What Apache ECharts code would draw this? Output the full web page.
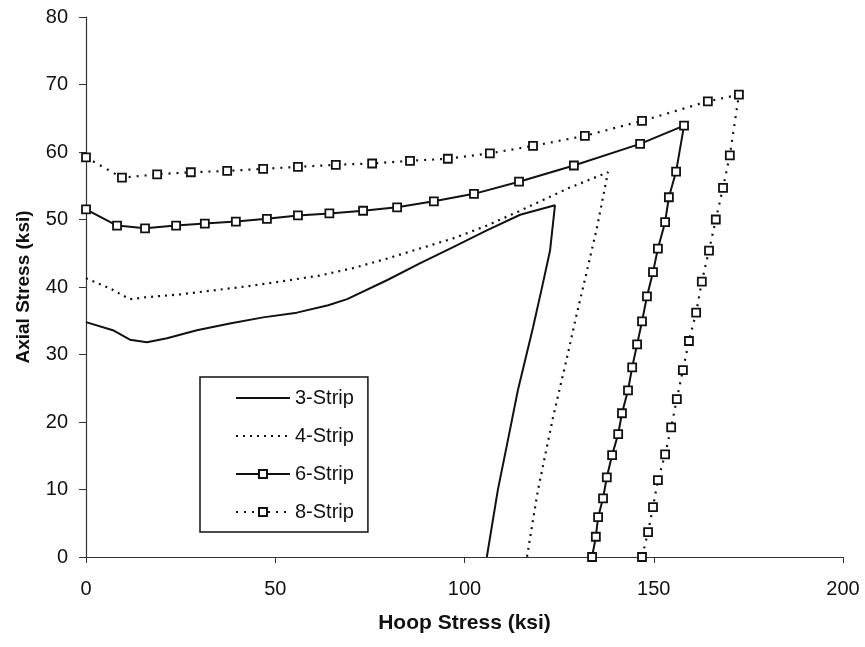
<!DOCTYPE html>
<html>
<head>
<meta charset="utf-8">
<script src="https://cdn.jsdelivr.net/npm/echarts@6/dist/echarts.min.js"></script>
<style>
  html, body { margin: 0; padding: 0; background: #fff; }
  #chart { width: 865px; height: 647px; }
</style>
</head>
<body>
<div id="chart"></div>
<script>
// Axis ranges and ticks
const hoopTicks = [0, 50, 100, 150, 200];
const axialTicks = [0, 10, 20, 30, 40, 50, 60, 70, 80];

// 3-Strip envelope (hoop, axial in ksi)
const strip3Hoop  = [0, 7.1, 11.6, 16.1, 21.4, 29.3, 38, 46.8, 55.7, 64, 69, 79.5, 88.2, 97, 105.9, 114.7, 123.9, 122.6, 120.7, 118.1, 116, 114.1, 112, 108.8, 105.9];
const strip3Axial = [34.8, 33.6, 32.2, 31.8, 32.4, 33.6, 34.6, 35.5, 36.2, 37.3, 38.2, 41, 43.5, 45.9, 48.4, 50.7, 52.1, 45.4, 40.5, 34.0, 29.1, 24.7, 18.8, 9.9, 0];

// 4-Strip envelope
const strip4Hoop  = [0, 6.3, 11.6, 16.1, 24.8, 33.6, 42.5, 51.3, 61.8, 70.5, 79.5, 88.2, 97, 105.9, 114.7, 127.3, 137.9, 135, 132.4, 129.7, 127.1, 123.4, 119.4, 116.5];
const strip4Axial = [41.3, 39.8, 38.2, 38.5, 38.9, 39.5, 40.1, 40.8, 41.7, 42.8, 44.2, 45.7, 47.2, 49.1, 51.3, 54.6, 57.0, 48.8, 42.5, 36.1, 29.6, 20.7, 9.9, 0];

// 6-Strip envelope
const strip6Hoop  = [0, 8.2, 15.6, 23.8, 31.4, 39.6, 47.8, 56, 64.3, 73.2, 82.2, 91.9, 102.5, 114.4, 128.9, 146.4, 158,
                     155.9, 154, 153, 151.1, 149.8, 148.2, 146.9, 145.6, 144.3, 143.2, 141.6, 140.6, 139, 137.6, 136.6, 135.3, 134.7, 133.7];
const strip6Axial = [51.5, 49.1, 48.7, 49.1, 49.4, 49.7, 50.1, 50.6, 50.9, 51.3, 51.8, 52.7, 53.8, 55.6, 58.0, 61.2, 63.9,
                     57.1, 53.3, 49.6, 45.7, 42.2, 38.6, 34.9, 31.5, 28.1, 24.7, 21.3, 18.2, 15.1, 11.8, 8.7, 5.9, 3.0, 0];

// 8-Strip envelope
const strip8Hoop  = [0, 9.5, 18.8, 27.7, 37.3, 46.8, 56, 66, 75.6, 85.6, 95.6, 106.7, 118.1, 131.8, 146.9, 164.3, 172.5,
                     170.1, 168.3, 166.4, 164.6, 162.7, 161.2, 159.3, 157.7, 156.1, 154.6, 153, 151.1, 149.8, 148.5, 146.9];
const strip8Axial = [59.2, 56.2, 56.7, 57.0, 57.2, 57.5, 57.8, 58.1, 58.3, 58.7, 59.0, 59.8, 60.9, 62.4, 64.6, 67.5, 68.5,
                     59.5, 54.7, 50.0, 45.4, 40.8, 36.2, 32.0, 27.7, 23.4, 19.2, 15.2, 11.4, 7.4, 3.7, 0];

const pairs = (xs, ys) => xs.map((x, i) => [x, ys[i]]);

const FONT = '"Liberation Sans", Arial, sans-serif';
const INK = '#111';

const squareMarker = {
  symbol: 'rect',
  symbolSize: 8,
  itemStyle: { color: '#fff', borderColor: INK, borderWidth: 1.8 }
};

const chart = echarts.init(document.getElementById('chart'), null, { renderer: 'canvas' });

chart.setOption({
  animation: false,
  backgroundColor: '#fff',
  grid: { left: 86, right: 22, top: 17, bottom: 90, containLabel: false },
  xAxis: {
    type: 'value',
    min: hoopTicks[0],
    max: hoopTicks[hoopTicks.length - 1],
    interval: hoopTicks[1] - hoopTicks[0],
    name: 'Hoop Stress (ksi)',
    nameLocation: 'middle',
    nameGap: 56,
    nameTextStyle: { fontFamily: FONT, fontSize: 21, fontWeight: 'bold', color: INK },
    axisLine: { show: true, onZero: false, lineStyle: { color: '#333', width: 1.2 } },
    axisTick: { show: true, inside: false, length: 6, lineStyle: { color: '#333' } },
    axisLabel: { fontFamily: FONT, fontSize: 20, color: INK, margin: 22 },
    splitLine: { show: false }
  },
  yAxis: {
    type: 'value',
    min: axialTicks[0],
    max: axialTicks[axialTicks.length - 1],
    interval: axialTicks[1] - axialTicks[0],
    name: 'Axial Stress (ksi)',
    nameLocation: 'middle',
    nameGap: 53,
    nameTextStyle: { fontFamily: FONT, fontSize: 19, fontWeight: 'bold', color: INK },
    axisLine: { show: true, onZero: false, lineStyle: { color: '#333', width: 1.2 } },
    axisTick: { show: true, inside: false, length: 7, lineStyle: { color: '#333' } },
    axisLabel: { fontFamily: FONT, fontSize: 20, color: INK, margin: 18 },
    splitLine: { show: false }
  },
  legend: {
    orient: 'vertical',
    left: 200,
    top: 377,
    padding: [11, 14, 10, 35],
    borderColor: INK,
    borderWidth: 1.5,
    itemWidth: 54,
    itemHeight: 10,
    itemGap: 18,
    textStyle: { fontFamily: FONT, fontSize: 20, color: INK, lineHeight: 20 },
    data: [
      // plain lines carry no marker in the key
      { name: '3-Strip', itemStyle: { opacity: 0 } },
      { name: '4-Strip', itemStyle: { opacity: 0 } },
      { name: '6-Strip' },
      { name: '8-Strip' }
    ]
  },
  series: [
    {
      name: '3-Strip',
      type: 'line',
      data: pairs(strip3Hoop, strip3Axial),
      symbol: 'none',
      lineStyle: { color: INK, width: 2, type: 'solid' },
      itemStyle: { color: INK }
    },
    {
      name: '4-Strip',
      type: 'line',
      data: pairs(strip4Hoop, strip4Axial),
      symbol: 'none',
      lineStyle: { color: INK, width: 2.2, type: [2, 5] },
      itemStyle: { color: INK }
    },
    Object.assign({
      name: '6-Strip',
      type: 'line',
      data: pairs(strip6Hoop, strip6Axial),
      lineStyle: { color: INK, width: 2, type: 'solid' }
    }, squareMarker),
    Object.assign({
      name: '8-Strip',
      type: 'line',
      data: pairs(strip8Hoop, strip8Axial),
      lineStyle: { color: INK, width: 2.2, type: [2, 6] }
    }, squareMarker)
  ]
});
</script>
</body>
</html>
